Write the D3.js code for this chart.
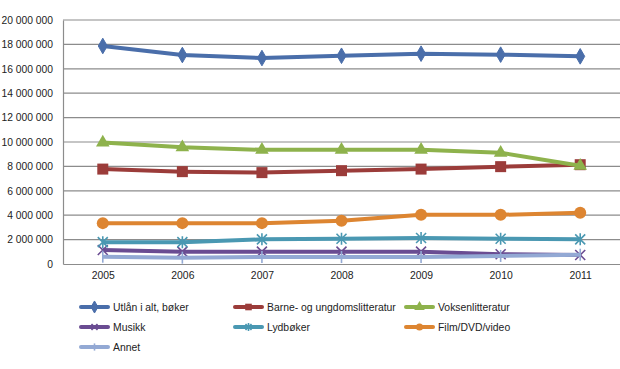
<!DOCTYPE html>
<html>
<head>
<meta charset="utf-8">
<script src="https://cdn.jsdelivr.net/npm/d3@7"></script>
<style>
  body { margin: 0; background: #fff; }
  svg { font-family: "Liberation Sans", Arial, sans-serif; }
</style>
</head>
<body>
<svg id="chart"></svg>
<script>
const years = ['2005', '2006', '2007', '2008', '2009', '2010', '2011'];
const yTicks = [0, 2e6, 4e6, 6e6, 8e6, 10e6, 12e6, 14e6, 16e6, 18e6, 20e6];

const utlan = [17.87e6, 17.13e6, 16.88e6, 17.07e6, 17.24e6, 17.16e6, 17.02e6];
const barne = [7.78e6, 7.57e6, 7.49e6, 7.65e6, 7.78e6, 7.98e6, 8.14e6];
const voksen = [9.96e6, 9.56e6, 9.36e6, 9.36e6, 9.36e6, 9.12e6, 8.05e6];
const musikk = [1.15e6, 1.01e6, 1.01e6, 1.01e6, 1.01e6, 0.80e6, 0.74e6];
const lydboker = [1.79e6, 1.79e6, 2.02e6, 2.07e6, 2.13e6, 2.07e6, 2.02e6];
const film = [3.35e6, 3.35e6, 3.35e6, 3.55e6, 4.03e6, 4.03e6, 4.20e6];
const annet = [0.60e6, 0.52e6, 0.57e6, 0.57e6, 0.57e6, 0.66e6, 0.76e6];

const series = [
  { name: 'Utlån i alt, bøker', values: utlan, color: '#4a6eaa', marker: 'diamond' },
  { name: 'Barne- og ungdomslitteratur', values: barne, color: '#9b3c3a', marker: 'square' },
  { name: 'Voksenlitteratur', values: voksen, color: '#8eb24c', marker: 'triangle' },
  { name: 'Musikk', values: musikk, color: '#6a4c92', marker: 'x' },
  { name: 'Lydbøker', values: lydboker, color: '#4a98b2', marker: 'star' },
  { name: 'Film/DVD/video', values: film, color: '#dd8531', marker: 'circle' },
  { name: 'Annet', values: annet, color: '#93a9d4', marker: 'plus' }
];

const width = 620, height = 369;
const margin = { top: 20, right: 0, bottom: 105, left: 63 };
const fontSize = 10.4;

const svg = d3.select('#chart').attr('width', width).attr('height', height);

const x = d3.scalePoint().domain(years)
  .range([margin.left, width - margin.right]).padding(0.5);
const y = d3.scaleLinear().domain([0, 20e6])
  .range([height - margin.bottom, margin.top]);

const fmt = v => d3.format(',')(v).replace(/,/g, ' ');

// gridlines
svg.append('g')
  .selectAll('line')
  .data(yTicks.slice(1))
  .join('line')
  .attr('x1', margin.left).attr('x2', width - margin.right)
  .attr('y1', d => y(d)).attr('y2', d => y(d))
  .attr('stroke', '#8c8c8c').attr('stroke-width', 1.2);

const yAxis = svg.append('g')
  .attr('transform', `translate(${margin.left},0)`)
  .call(d3.axisLeft(y).tickValues(yTicks).tickFormat(fmt).tickSize(0).tickPadding(10));
yAxis.select('.domain').attr('stroke', '#8c8c8c').attr('stroke-width', 1.2);
yAxis.selectAll('text').attr('font-size', 10.3).attr('fill', '#222')
  .attr('font-family', '"Liberation Sans", Arial, sans-serif');

const xAxis = svg.append('g')
  .attr('transform', `translate(0,${y(0)})`)
  .call(d3.axisBottom(x).tickSize(0).tickPadding(8));
xAxis.select('.domain').attr('stroke', '#8c8c8c').attr('stroke-width', 1.2);
xAxis.selectAll('text').attr('font-size', fontSize).attr('fill', '#222')
  .attr('font-family', '"Liberation Sans", Arial, sans-serif');

function drawMarker(g, type, color, s) {
  if (type === 'diamond') {
    g.append('path').attr('d', d3.symbol(d3.symbolDiamond, 70 * s)())
      .attr('fill', color).attr('stroke', color);
  } else if (type === 'square') {
    g.append('rect').attr('x', -5.5 * s).attr('y', -5.5 * s)
      .attr('width', 11 * s).attr('height', 11 * s).attr('fill', color);
  } else if (type === 'triangle') {
    g.append('path').attr('d', d3.symbol(d3.symbolTriangle, 80 * s)())
      .attr('fill', color);
  } else if (type === 'circle') {
    g.append('circle').attr('r', 6 * s).attr('fill', color);
  } else if (type === 'x') {
    const r = 5 * s;
    g.append('path').attr('d', `M${-r},${-r}L${r},${r}M${-r},${r}L${r},${-r}`)
      .attr('stroke', color).attr('stroke-width', 1.6);
  } else if (type === 'star') {
    const r = 5 * s;
    g.append('path').attr('d', `M${-r},${-r}L${r},${r}M${-r},${r}L${r},${-r}M0,${-r - 1}L0,${r + 1}`)
      .attr('stroke', color).attr('stroke-width', 1.6);
  } else if (type === 'plus') {
    const r = 6 * s;
    g.append('path').attr('d', `M0,${-r}L0,${r}`)
      .attr('stroke', color).attr('stroke-width', 1.6);
  }
}

const line = d3.line().x((d, i) => x(years[i])).y(d => y(d));

series.forEach(s => {
  const g = svg.append('g');
  g.append('path').datum(s.values)
    .attr('d', line).attr('fill', 'none')
    .attr('stroke', s.color).attr('stroke-width', 4)
    .attr('stroke-linejoin', 'round');
  s.values.forEach((v, i) => {
    const m = g.append('g').attr('transform', `translate(${x(years[i])},${y(v)})`);
    drawMarker(m, s.marker, s.color, 1);
  });
});

// legend
const legCols = [81, 235, 406];
const legRows = [307, 327, 347];
series.forEach((s, i) => {
  const lx = legCols[i % 3], ly = legRows[Math.floor(i / 3)];
  const g = svg.append('g').attr('transform', `translate(${lx},${ly})`);
  g.append('line').attr('x1', 0).attr('x2', 27).attr('y1', 0).attr('y2', 0)
    .attr('stroke', s.color).attr('stroke-width', 4).attr('stroke-linecap', 'round');
  const m = g.append('g').attr('transform', 'translate(13.5,0)');
  drawMarker(m, s.marker, s.color, 0.6);
  g.append('text').attr('x', 32).attr('y', 4)
    .attr('font-size', fontSize).attr('fill', '#222').text(s.name);
});
</script>
</body>
</html>
